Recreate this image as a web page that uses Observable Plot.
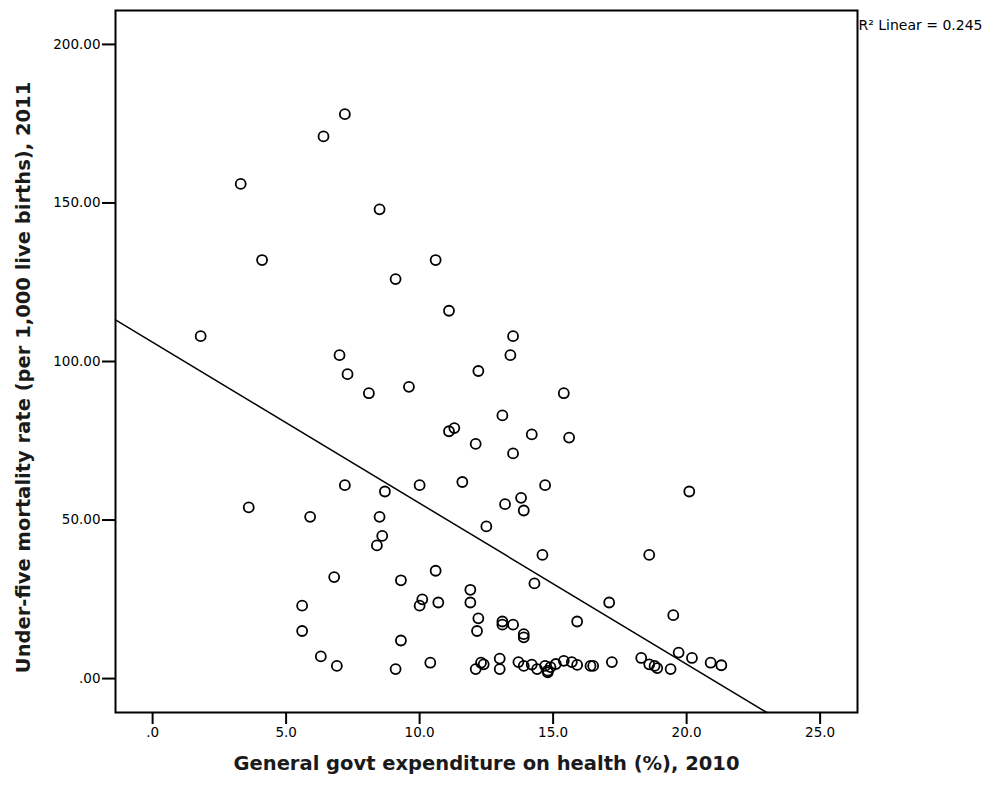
<!DOCTYPE html>
<html>
<head>
<meta charset="utf-8">
<script src="https://cdn.jsdelivr.net/npm/d3@7"></script>
<script src="https://cdn.jsdelivr.net/npm/@observablehq/plot@0.6"></script>
<style>
  html, body { margin: 0; padding: 0; background: #fff; }
  #chart svg { font-family: "DejaVu Sans", Verdana, sans-serif; }
</style>
</head>
<body>
<div id="chart"></div>
<script>
// Government expenditure on health (%), 2010
const expenditure = [
  1.8, 3.3, 4.1, 3.6, 5.6, 5.6, 5.9, 6.3, 6.4, 6.8,
  6.9, 7.0, 7.2, 7.2, 7.3, 8.1, 8.4, 8.5, 8.5, 8.6,
  8.7, 9.1, 9.1, 9.3, 9.3, 9.6, 10.0, 10.0, 10.1, 10.4,
  10.6, 10.6, 10.7, 11.1, 11.1, 11.3, 11.6, 11.9, 11.9, 12.1,
  12.2, 12.2, 12.15, 12.1, 12.3, 12.4, 12.5, 13.0, 13.0, 13.1,
  13.1, 13.1, 13.2, 13.4, 13.5, 13.5, 13.5, 13.7, 13.8, 13.9,
  13.9, 13.9, 13.9, 14.2, 14.2, 14.3, 14.4, 14.6, 14.7, 14.7,
  14.8, 14.8, 14.9, 15.1, 15.4, 15.4, 15.6, 15.7, 15.9, 15.9,
  16.4, 16.5, 17.1, 17.2, 18.3, 18.6, 18.6, 18.8, 18.9, 19.4,
  19.5, 19.7, 20.1, 20.2, 20.9, 21.3
];
// Under-five mortality rate (per 1,000 live births), 2011
const mortality = [
  108, 156, 132, 54, 23, 15, 51, 7, 171, 32,
  4, 102, 178, 61, 96, 90, 42, 148, 51, 45,
  59, 126, 3, 31, 12, 92, 61, 23, 25, 5,
  132, 34, 24, 116, 78, 79, 62, 28, 24, 74,
  97, 19, 15, 3, 5, 4.5, 48, 6.3, 3, 83,
  18, 17, 55, 102, 108, 71, 17, 5.2, 57, 53,
  14, 13, 4, 77, 4.4, 30, 3, 39, 61, 4,
  2.5, 2, 3.6, 4.6, 90, 5.6, 76, 5.2, 18, 4.3,
  4, 4, 24, 5.2, 6.5, 39, 4.5, 4, 3.3, 3,
  20, 8.2, 59, 6.5, 5, 4.2
];

// Fit line (SPSS "R² Linear = 0.245")
const fitIntercept = 106.05;
const fitSlope = -5.076;
const r2Text = "R² Linear = 0.245";

// Axes
const xTicks = [0, 5, 10, 15, 20, 25];
const xTickLabels = [".0", "5.0", "10.0", "15.0", "20.0", "25.0"];
const yTicks = [0, 50, 100, 150, 200];
const yTickLabels = [".00", "50.00", "100.00", "150.00", "200.00"];
const xDomain = [-1.39, 26.4];
const yDomain = [-10.7, 210.7];
const xTitle = "General govt expenditure on health (%), 2010";
const yTitle = "Under-five mortality rate (per 1,000 live births), 2011";

const points = expenditure.map((x, i) => ({x, y: mortality[i]}));

// regression line across the frame, clipped at the bottom of the y domain
const xEnd = Math.min(xDomain[1], (yDomain[0] - fitIntercept) / fitSlope);
const fitLine = [xDomain[0], xEnd].map(x => ({x, y: fitIntercept + fitSlope * x}));

const chart = Plot.plot({
  width: 998,
  height: 789,
  marginTop: 10,
  marginLeft: 115,
  marginRight: 141,
  marginBottom: 77,
  style: {fontFamily: "'DejaVu Sans', Verdana, sans-serif", fontSize: "13px", color: "#000", background: "#fff", overflow: "visible"},
  x: {domain: xDomain},
  y: {domain: yDomain},
  marks: [
    Plot.axisX({
      ticks: xTicks,
      tickFormat: d => xTickLabels[xTicks.indexOf(d)],
      tickSize: 12,
      tickPadding: 3,
      strokeWidth: 2,
      fontSize: 13.5,
      label: null
    }),
    Plot.axisY({
      ticks: yTicks,
      tickFormat: d => yTickLabels[yTicks.indexOf(d)],
      tickSize: 13,
      tickPadding: 2,
      strokeWidth: 2,
      fontSize: 13.5,
      label: null
    }),
    Plot.line(fitLine, {x: "x", y: "y", stroke: "#000", strokeWidth: 1.5}),
    Plot.dot(points, {x: "x", y: "y", r: 5, stroke: "#000", strokeWidth: 1.8, fill: "none"}),
    Plot.frame({stroke: "#000", strokeWidth: 2}),
    Plot.text([yTitle], {frameAnchor: "left", dx: -92, dy: 16, rotate: -90, textAnchor: "middle", fontWeight: "bold", fontSize: 19.5, fill: "#1a1a1a"}),
    Plot.text([xTitle], {frameAnchor: "bottom", dy: 57, textAnchor: "middle", fontWeight: "bold", fontSize: 19.5, fill: "#1a1a1a"}),
    Plot.text([r2Text], {frameAnchor: "top-right", dx: 1, dy: 15, textAnchor: "start", lineAnchor: "middle", fontSize: 14, fill: "#000"})
  ]
});
document.getElementById("chart").appendChild(chart);
</script>
</body>
</html>
